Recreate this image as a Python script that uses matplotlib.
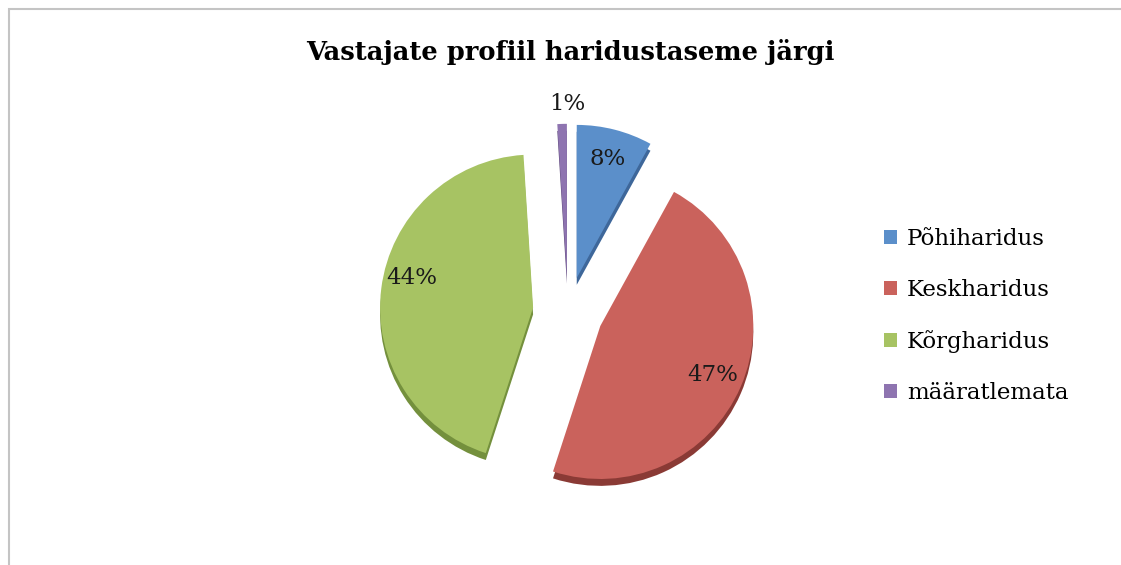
import matplotlib
matplotlib.use("Agg")
import matplotlib.pyplot as plt
from matplotlib.patches import Rectangle
import numpy as np

# andmed
kategooriad = ["Põhiharidus", "Keskharidus", "Kõrgharidus", "määratlemata"]
osakaal = [8, 47, 44, 1]
varvid = ["#5B8FCA", "#CA625C", "#A7C363", "#8E74B0"]
varjud = ["#3E679A", "#8A3A35", "#74903D", "#5E4A7A"]

W, H = 1121, 565
fig = plt.figure(figsize=(W / 100, H / 100), dpi=100)
fig.patch.set_facecolor("white")

# hall raam nagu Exceli diagrammil
fig.patches.append(Rectangle((9 / W, -0.1), 1.2, 1 - 9 / H + 0.1, transform=fig.transFigure,
                             fill=False, edgecolor="#C4C4C4", linewidth=1.5))

fig.text(570 / W, 1 - 52 / H, "Vastajate profiil haridustaseme järgi",
         ha="center", va="center", fontsize=18.5, fontweight="bold", family="DejaVu Serif")

cx, cy, r, half = 568, 312, 153, 245
ax = fig.add_axes([(cx - half) / W, 1 - (cy + half) / H, 2 * half / W, 2 * half / H])
lim = half / r

explode = [0.23] * len(osakaal)

# "3D" sügavus: tumedam koopia veidi allapoole
ax.pie(osakaal, explode=explode, colors=varjud, startangle=90, counterclock=False,
       center=(0, -0.045), wedgeprops=dict(linewidth=0))

wedges, texts, autotexts = ax.pie(
    osakaal, explode=explode, colors=varvid, startangle=90, counterclock=False,
    autopct=lambda p: f"{p:.0f}%", pctdistance=0.8,
    wedgeprops=dict(linewidth=0),
    textprops=dict(fontsize=16.5, family="DejaVu Serif", color="#1a1a1a"))

# väike viil: silt väljaspool
w = wedges[3]
ang = np.deg2rad((w.theta1 + w.theta2) / 2)
autotexts[3].set_position((w.center[0] + 1.13 * np.cos(ang) + 0.04, w.center[1] + 1.13 * np.sin(ang)))
# Kõrghariduse silt veidi kõrgemal nagu originaalis
x, y = autotexts[2].get_position()
autotexts[2].set_position((x, y + 0.09))

ax.set_xlim(-lim, lim)
ax.set_ylim(-lim, lim)
ax.set_aspect("equal")
ax.axis("off")

leg = fig.legend(wedges, kategooriad, loc="center left",
                 bbox_to_anchor=(884 / W, 1 - 316 / H), frameon=False,
                 prop=dict(family="DejaVu Serif", size=16.5),
                 handlelength=0.55, handleheight=0.55, handletextpad=0.45,
                 labelspacing=1.27, borderpad=0, borderaxespad=0)

fig.savefig("out.png", dpi=100)
